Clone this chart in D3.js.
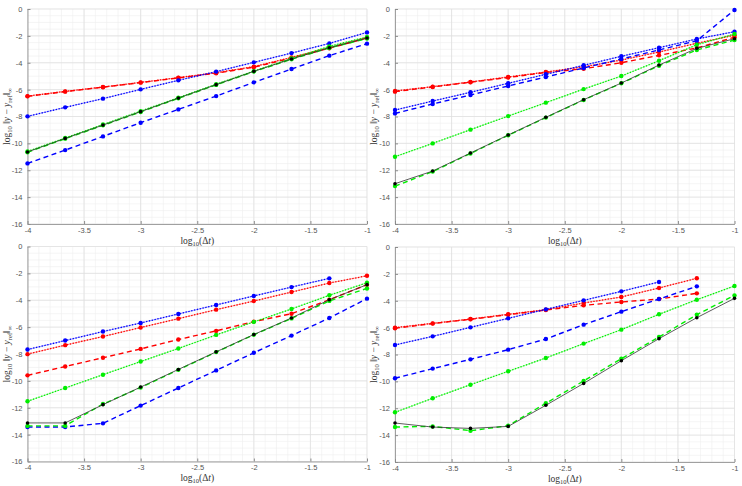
<!DOCTYPE html>
<html>
<head>
<meta charset="utf-8">
<script src="https://cdn.jsdelivr.net/npm/d3@7.9.0/dist/d3.min.js"></script>
<style>
  body { margin: 0; background: #fff; }
  svg { display: block; }
  .tick text { font-family: "Liberation Sans", Arial, sans-serif; font-size: 7.5px; fill: #555; }
  .lab { font-family: "Liberation Serif", "DejaVu Serif", serif; font-size: 9.5px; fill: #333; }
</style>
</head>
<body>
<svg id="chart" width="742" height="486"></svg>
<script>
// x positions: log10(dt)
const logDt = [-4, -3.667, -3.333, -3, -2.667, -2.333, -2, -1.667, -1.333, -1];
const xTicks = [-4, -3.5, -3, -2.5, -2, -1.5, -1];
const yTicks = [0, -2, -4, -6, -8, -10, -12, -14, -16];

// top left
const p1RedDot = [-6.48, -6.13, -5.81, -5.46, -5.11, -4.74, -4.29, -3.6, -2.88, -2.13];
const p1RedDash = [-6.5, -6.15, -5.82, -5.48, -5.13, -4.78, -4.33, -3.65, -2.92, -2.16];
const p1BlueDot = [-7.99, -7.32, -6.67, -5.98, -5.31, -4.66, -3.97, -3.28, -2.56, -1.74];
const p1BlueDash = [-11.49, -10.5, -9.48, -8.46, -7.47, -6.48, -5.46, -4.47, -3.47, -2.58];
const p1GreenDot = [-10.6, -9.6, -8.6, -7.6, -6.6, -5.6, -4.62, -3.68, -2.78, -2.08];
const p1GreenDash = [-10.66, -9.65, -8.66, -7.66, -6.65, -5.65, -4.66, -3.74, -2.9, -2.2];
const p1Black = [-10.64, -9.63, -8.64, -7.64, -6.63, -5.63, -4.64, -3.72, -2.88, -2.16];

// top right
const p2RedDot = [-6.1, -5.78, -5.43, -5.06, -4.69, -4.3, -3.8, -3.2, -2.55, -1.95];
const p2RedDash = [-6.15, -5.8, -5.45, -5.1, -4.72, -4.45, -4.0, -3.45, -2.9, -2.1];
const p2BlueDot = [-7.52, -6.85, -6.2, -5.53, -4.86, -4.19, -3.52, -2.88, -2.23, -1.69];
const p2BlueDash = [-7.77, -7.07, -6.4, -5.73, -5.06, -4.39, -3.72, -3.05, -2.36, -0.07];
const p2GreenDot = [-10.99, -10.0, -8.98, -7.97, -6.97, -5.96, -4.99, -3.85, -2.66, -1.86];
const p2GreenDash = [-13.18, -12.1, -10.75, -9.4, -8.08, -6.77, -5.53, -4.22, -3.05, -2.31];
const p2Black = [-13.0, -12.06, -10.72, -9.38, -8.06, -6.75, -5.51, -4.17, -2.93, -2.21];

// bottom left
const p3RedDot = [-8.01, -7.34, -6.7, -6.03, -5.37, -4.7, -4.06, -3.39, -2.72, -2.18];
const p3RedDash = [-9.59, -8.93, -8.28, -7.62, -6.92, -6.28, -5.59, -5.0, -3.96, -2.84];
const p3BlueDot = [-7.67, -7.0, -6.33, -5.69, -5.02, -4.35, -3.68, -3.02, -2.37];
const p3BlueDash = [-13.43, -13.43, -13.16, -11.84, -10.53, -9.22, -7.91, -6.63, -5.32, -3.88];
const p3GreenDot = [-11.52, -10.53, -9.54, -8.56, -7.59, -6.58, -5.61, -4.65, -3.63, -2.7];
const p3GreenDash = [-13.35, -13.35, -11.72, -10.5, -9.18, -7.86, -6.57, -5.35, -4.05, -3.12];
const p3Black = [-13.13, -13.13, -11.77, -10.46, -9.15, -7.84, -6.55, -5.32, -3.96, -2.84];

// bottom right
const p4RedDot = [-6.0, -5.68, -5.36, -5.01, -4.66, -4.17, -3.72, -3.05, -2.33];
const p4RedDash = [-6.05, -5.7, -5.38, -5.04, -4.69, -4.34, -4.09, -3.87, -3.45];
const p4BlueDot = [-7.29, -6.65, -5.98, -5.31, -4.64, -3.97, -3.3, -2.6];
const p4BlueDash = [-9.77, -9.05, -8.36, -7.64, -6.85, -5.78, -4.81, -3.87, -2.93];
const p4GreenDot = [-12.3, -11.26, -10.25, -9.25, -8.26, -7.19, -6.15, -5.01, -3.92, -2.9];
const p4GreenDash = [-13.4, -13.35, -13.67, -13.3, -11.63, -9.97, -8.31, -6.7, -5.04, -3.6];
const p4Black = [-13.1, -13.4, -13.5, -13.35, -11.78, -10.15, -8.46, -6.82, -5.26, -3.82];

const panels = [
  { left: 27.5, top: 9, series: [p1RedDot, p1RedDash, p1BlueDot, p1BlueDash, p1GreenDot, p1GreenDash, p1Black] },
  { left: 395, top: 9, series: [p2RedDot, p2RedDash, p2BlueDot, p2BlueDash, p2GreenDot, p2GreenDash, p2Black] },
  { left: 27.5, top: 246.5, series: [p3RedDot, p3RedDash, p3BlueDot, p3BlueDash, p3GreenDot, p3GreenDash, p3Black] },
  { left: 395, top: 247, series: [p4RedDot, p4RedDash, p4BlueDot, p4BlueDash, p4GreenDot, p4GreenDash, p4Black] }
];

// style for each slot in series lists
const styles = [
  { color: '#ff0000', kind: 'dot' },
  { color: '#ff0000', kind: 'dash' },
  { color: '#0000ff', kind: 'dot' },
  { color: '#0000ff', kind: 'dash' },
  { color: '#00ee00', kind: 'dot' },
  { color: '#00ee00', kind: 'dash' },
  { color: '#000000', kind: 'solid' }
];

const W = 339.5, H = 215;
const svg = d3.select('#chart');

panels.forEach((p) => {
  const g = svg.append('g').attr('transform', `translate(${p.left},${p.top})`);
  const x = d3.scaleLinear().domain([-4, -1]).range([0, W]);
  const y = d3.scaleLinear().domain([-16, 0]).range([H, 0]);

  // minor grid
  const minorX = d3.range(-4, -0.99, 0.1);
  const minorY = d3.range(-16, 0.01, 0.5);
  g.selectAll('.mx').data(minorX).join('line')
    .attr('x1', d => x(d)).attr('x2', d => x(d)).attr('y1', 0).attr('y2', H)
    .attr('stroke', '#eeeeee').attr('stroke-width', 0.6);
  g.selectAll('.my').data(minorY).join('line')
    .attr('y1', d => y(d)).attr('y2', d => y(d)).attr('x1', 0).attr('x2', W)
    .attr('stroke', '#eeeeee').attr('stroke-width', 0.6);
  // major grid
  g.append('g').selectAll('line').data(xTicks).join('line')
    .attr('x1', d => x(d)).attr('x2', d => x(d)).attr('y1', 0).attr('y2', H)
    .attr('stroke', '#dedede').attr('stroke-width', 0.7);
  g.append('g').selectAll('line').data(yTicks).join('line')
    .attr('y1', d => y(d)).attr('y2', d => y(d)).attr('x1', 0).attr('x2', W)
    .attr('stroke', '#dedede').attr('stroke-width', 0.7);

  // axes
  const xAxis = g.append('g').attr('transform', `translate(0,${H})`)
    .call(d3.axisBottom(x).tickValues(xTicks).tickFormat(d3.format('')).tickSizeInner(-3).tickSizeOuter(0).tickPadding(3.5));
  const yAxis = g.append('g')
    .call(d3.axisLeft(y).tickValues(yTicks).tickFormat(d3.format('')).tickSizeInner(-3).tickSizeOuter(0).tickPadding(5));
  [xAxis, yAxis].forEach(a => {
    a.select('.domain').attr('stroke', '#8c8c8c').attr('stroke-width', 0.8);
    a.selectAll('.tick line').attr('stroke', '#8c8c8c');
    a.selectAll('text').text(function () { return this.textContent.replace('−', '-'); });
  });

  const line = d3.line().x((d, i) => x(logDt[i])).y(d => y(d));

  p.series.forEach((vals, si) => {
    const st = styles[si];
    if (st.kind === 'solid') {
      g.append('path').attr('d', line(vals)).attr('fill', 'none')
        .attr('stroke', '#333').attr('stroke-width', 0.8);
    } else if (st.kind === 'dot') {
      g.append('path').attr('d', line(vals)).attr('fill', 'none')
        .attr('stroke', st.color).attr('stroke-width', 0.7).attr('stroke-opacity', 0.55);
      g.append('path').attr('d', line(vals)).attr('fill', 'none')
        .attr('stroke', st.color).attr('stroke-width', 1.3).attr('stroke-dasharray', '1.3,1.6');
    } else {
      g.append('path').attr('d', line(vals)).attr('fill', 'none')
        .attr('stroke', st.color).attr('stroke-width', 1.4).attr('stroke-dasharray', '5,3.5');
    }
    g.append('g').selectAll('circle').data(vals).join('circle')
      .attr('cx', (d, i) => x(logDt[i])).attr('cy', d => y(d))
      .attr('r', st.kind === 'solid' ? 1.8 : 2.2).attr('fill', st.color);
  });

  // labels
  g.append('text').attr('class', 'lab').attr('x', W / 2).attr('y', H + 19.5)
    .attr('text-anchor', 'middle')
    .html('log<tspan font-size="6.5" dy="2">10</tspan><tspan dy="-2">(Δ</tspan><tspan font-style="italic">t</tspan>)');
  g.append('text').attr('class', 'lab')
    .attr('transform', `translate(-18,${H / 2}) rotate(-90)`)
    .attr('text-anchor', 'middle')
    .html('log<tspan font-size="6.5" dy="2">10</tspan><tspan dy="-2"> ‖</tspan><tspan font-style="italic">y</tspan> − <tspan font-style="italic">y</tspan><tspan font-size="6.5" dy="2">ref</tspan><tspan dy="-2">‖</tspan><tspan font-size="6.5" dy="2">∞</tspan>');
});
</script>
</body>
</html>
